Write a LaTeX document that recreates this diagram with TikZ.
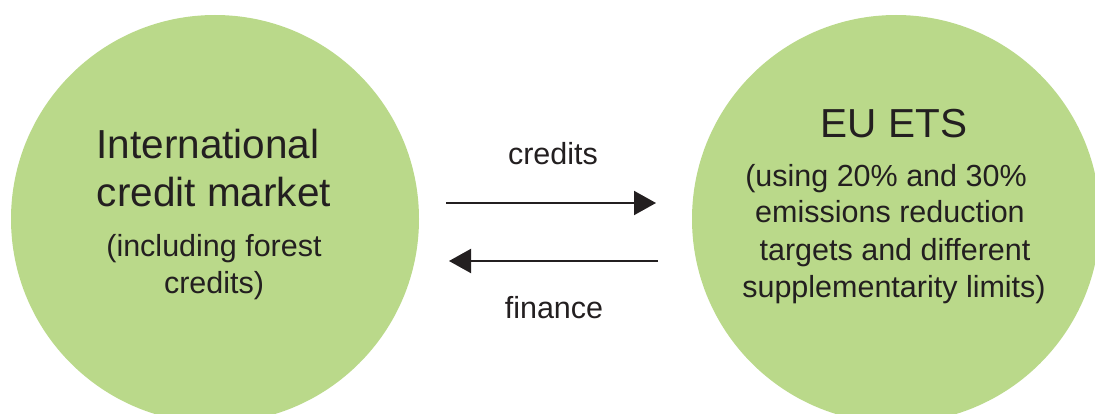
\documentclass[tikz,border=0pt]{standalone}
\usepackage{fontspec}
\setmainfont{Liberation Sans}
\usetikzlibrary{arrows.meta}
\definecolor{bubble}{RGB}{186,217,138}
\definecolor{ink}{RGB}{35,31,32}
\tikzset{
  bubblenode/.style={circle, fill=bubble, draw=none, minimum size=408pt, inner sep=0pt},
  bigtxt/.style={anchor=base, inner sep=0pt, text=ink, font=\fontsize{40.5}{48}\selectfont},
  smalltxt/.style={anchor=base, inner sep=0pt, text=ink, font=\fontsize{30.5}{36}\selectfont},
  flow/.style={draw=ink, line width=2pt, -{Triangle[length=22pt,width=24pt]}}
}
\begin{document}
\begin{tikzpicture}[x=1pt,y=-1pt]
\useasboundingbox (0,0) rectangle (1095,414);
\clip (0,0) rectangle (1095,414);
\node[bubblenode] (left) at (215,219) {};
\node[bubblenode] (right) at (896,219) {};
% left texts
\node[bigtxt] (l1) at (208,159) {International};
\node[bigtxt] (l2) at (214,207) {credit market};
\node[smalltxt] (l3) at (214,257) {(including forest};
\node[smalltxt] (l4) at (214,293) {credits)};
% right texts
\node[bigtxt] (r1) at (894,138) {EU ETS};
\node[smalltxt] (r2) at (886,187) {(using 20\% and 30\%};
\node[smalltxt] (r3) at (890,223) {emissions reduction};
\node[smalltxt] (r4) at (895,260) {targets and different};
\node[smalltxt] (r5) at (894,297) {supplementarity limits)};
% arrows
\coordinate (a1s) at (446,203);
\coordinate (a1e) at (656,203);
\coordinate (a2s) at (658,261);
\coordinate (a2e) at (449,261);
\draw[flow] (a1s) -- (a1e);
\draw[flow] (a2s) -- (a2e);
\node[smalltxt] (lbl1) at (553,165) {credits};
\node[smalltxt] (lbl2) at (554,318) {finance};
\end{tikzpicture}
\end{document}
